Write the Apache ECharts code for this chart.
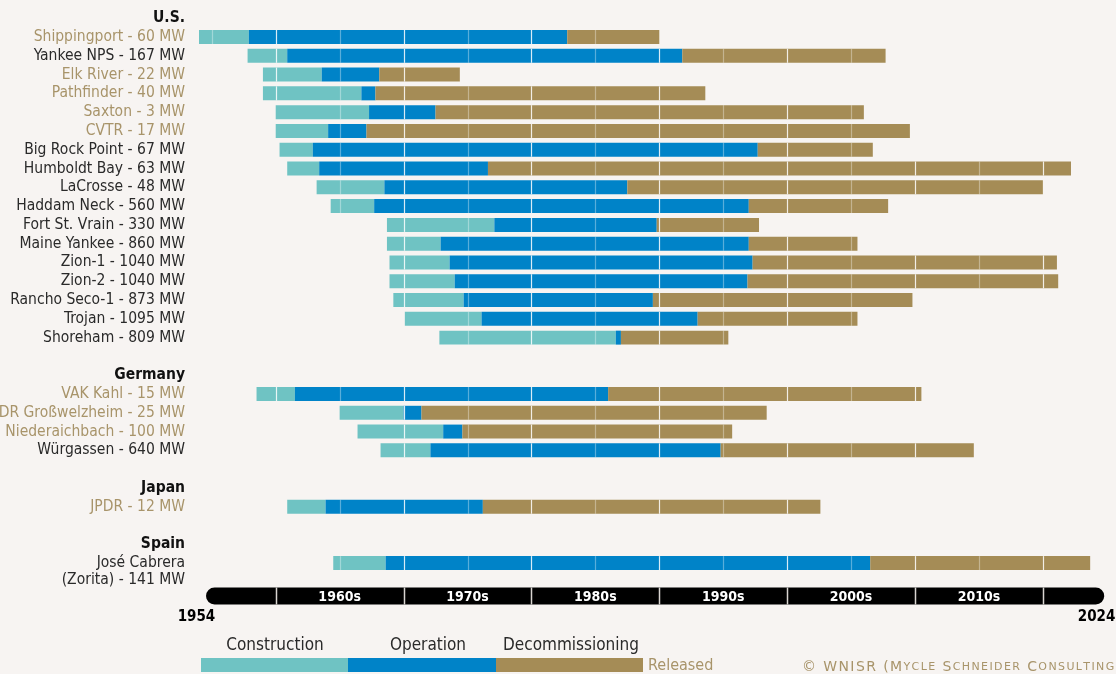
<!DOCTYPE html>
<html><head><meta charset="utf-8">
<script src="https://cdn.jsdelivr.net/npm/echarts@6/dist/echarts.min.js"></script>
<style>html,body{margin:0;padding:0;background:#f7f4f2;}#c{width:1116px;height:674px;}</style>
</head><body><div id="c"></div>
<script>
// ---- data ----
const rowLabels = [
  'U.S.',
  'Shippingport - 60 MW','Yankee NPS - 167 MW','Elk River - 22 MW','Pathfinder - 40 MW',
  'Saxton - 3 MW','CVTR - 17 MW','Big Rock Point - 67 MW','Humboldt Bay - 63 MW',
  'LaCrosse - 48 MW','Haddam Neck - 560 MW','Fort St. Vrain - 330 MW','Maine Yankee - 860 MW',
  'Zion-1 - 1040 MW','Zion-2 - 1040 MW','Rancho Seco-1 - 873 MW','Trojan - 1095 MW','Shoreham - 809 MW',
  ' ',
  'Germany',
  'VAK Kahl - 15 MW','HDR Großwelzheim - 25 MW','Niederaichbach - 100 MW','Würgassen - 640 MW',
  '  ',
  'Japan',
  'JPDR - 12 MW',
  '   ',
  'Spain',
  'José Cabrera\n(Zorita) - 141 MW'
];
const headers = ['U.S.','Germany','Japan','Spain'];
const released = ['Shippingport - 60 MW','Elk River - 22 MW','Pathfinder - 40 MW','Saxton - 3 MW','CVTR - 17 MW',
  'VAK Kahl - 15 MW','HDR Großwelzheim - 25 MW','Niederaichbach - 100 MW','JPDR - 12 MW'];
const constructionStart = [null,
  1954.0,1957.8,1959.0,1959.0,1960.0,1960.0,1960.3,1960.9,1963.2,1964.3,1968.7,1968.7,1968.9,1968.9,1969.2,1970.1,1972.8,
  null,null,1958.5,1965.0,1966.4,1968.2,null,null,1960.9,null,null,1964.5];
const operationStart = [null,
  1957.9,1960.9,1963.6,1966.7,1967.3,1964.1,1962.9,1963.4,1968.5,1967.7,1977.1,1972.9,1973.6,1974.0,1974.7,1976.1,1986.6,
  null,null,1961.5,1970.0,1973.1,1972.1,null,null,1963.9,null,null,1968.6];
const decommissioningStart = [null,
  1982.8,1991.8,1968.1,1967.8,1972.5,1967.1,1997.7,1976.6,1987.5,1997.0,1989.8,1997.0,1997.3,1996.9,1989.5,1993.0,1987.0,
  null,null,1986.0,1971.4,1974.6,1994.8,null,null,1976.2,null,null,2006.5];
const decommissioningEnd = [null,
  1990.0,2007.7,1974.4,1993.6,2006.0,2009.6,2006.7,2022.2,2020.0,2007.9,1997.8,2005.5,2021.1,2021.2,2009.8,2005.5,1995.4,
  null,null,2010.5,1998.4,1995.7,2014.6,null,null,2002.6,null,null,2023.7];
const decadeLabels = ['1960s','1970s','1980s','1990s','2000s','2010s'];
const decadeStarts = [1960,1970,1980,1990,2000,2010];
const yearStart = 1954, yearEnd = 2024;

// ---- style ----
const C_CON = '#6fc3c3', C_OP = '#0083c8', C_DEC = '#a58c56', C_GOLD = '#a8946a';
const FONT = "'Liberation Sans Narrow','DejaVu Sans Condensed','Roboto',sans-serif";

const barData = [];
rowLabels.forEach((n, i) => {
  if (constructionStart[i] != null)
    barData.push([i, constructionStart[i], operationStart[i], decommissioningStart[i], decommissioningEnd[i]]);
});

function renderBar(params, api) {
  const row = api.value(0);
  const s = api.value(1), o = api.value(2), d = api.value(3), e = api.value(4);
  const y = api.coord([s, row])[1];
  const h = api.size([0, 1])[1] * 0.745;
  const xs = [s, o, d, e].map(v => api.coord([v, row])[0]);
  const cols = [C_CON, C_OP, C_DEC];
  const children = [];
  for (let k = 0; k < 3; k++) {
    children.push({type: 'rect', shape: {x: xs[k], y: y - h / 2, width: xs[k + 1] - xs[k], height: h}, style: {fill: cols[k]}});
  }
  for (let yr = 1955; yr <= 2020; yr += 5) {
    if (yr > s && yr < e) {
      const x = Math.round(api.coord([yr, row])[0]) + 0.5;
      children.push({type: 'line', shape: {x1: x, y1: y - h / 2, x2: x, y2: y + h / 2},
        style: {stroke: '#ffffff', lineWidth: 1.2, opacity: yr % 10 === 0 ? 0.85 : 0.35}});
    }
  }
  return {type: 'group', children};
}

function renderTimeline(params, api) {
  const yTop = api.coord([yearStart, 1])[1], yBot = api.coord([yearStart, 0])[1];
  const h = yBot - yTop;
  const x0 = api.coord([yearStart + 0.55, 0])[0], x1 = api.coord([yearEnd + 0.8, 0])[0];
  const children = [{type: 'rect', shape: {x: x0, y: yTop, width: x1 - x0, height: h, r: h / 2}, style: {fill: '#000'}}];
  for (let yr = 1960; yr <= 2020; yr += 10) {
    const x = Math.round(api.coord([yr, 0])[0]) + 0.5;
    children.push({type: 'line', shape: {x1: x, y1: yTop, x2: x, y2: yBot}, style: {stroke: '#d8d4d0', lineWidth: 1.5}});
  }
  decadeStarts.forEach((d, k) => {
    children.push({type: 'text', style: {text: decadeLabels[k], x: api.coord([d + 5, 0])[0], y: (yTop + yBot) / 2 + 1,
      align: 'center', verticalAlign: 'middle', fill: '#fff', font: "bold 14px " + FONT}});
  });
  [yearStart, yearEnd].forEach(yv => {
    children.push({type: 'text', style: {text: String(yv), x: api.coord([yv + (yv === yearStart ? -0.2 : 0.2), 0])[0], y: yBot + 13,
      align: 'center', verticalAlign: 'middle', fill: '#000', font: "bold 15px " + FONT}});
  });
  return {type: 'group', children};
}

// copyright in small caps with extra letter spacing
const copyright = '© WNISR (Mycle Schneider Consulting';
let copyRich = '';
for (const ch of copyright) {
  const isUpper = ch === ch.toUpperCase();
  copyRich += '{' + (isUpper ? 'b' : 's') + '|' + ch.toUpperCase() + '}{g|\u2009}';
}

const chart = echarts.init(document.getElementById('c'), null, {renderer: 'canvas'});
chart.setOption({
  backgroundColor: '#f7f4f2',
  animation: false,
  grid: [
    {left: 199, right: 22, top: 8.8, height: 563.7, containLabel: false, outerBoundsMode: 'none'},
    {left: 199, right: 22, top: 587.5, height: 17, containLabel: false, outerBoundsMode: 'none'}
  ],
  xAxis: [
    {gridIndex: 0, type: 'value', min: yearStart, max: yearEnd, show: false},
    {gridIndex: 1, type: 'value', min: yearStart, max: yearEnd, show: false}
  ],
  yAxis: [
    {gridIndex: 0, type: 'category', inverse: true, data: rowLabels,
      axisLine: {show: false}, axisTick: {show: false}, splitLine: {show: false},
      axisLabel: {
        margin: 14, interval: 0, fontFamily: FONT,
        formatter: function (v) {
          if (headers.includes(v)) return '{h|' + v + '}';
          if (v.indexOf('\n') >= 0) return v.split('\n').reduce((a, t) => a + '\n{p|' + t + '}', '{p| }');
          if (released.includes(v)) return '{r|' + v + '}';
          return '{p|' + v + '}';
        },
        rich: {
          h: {fontFamily: FONT, fontWeight: 'bold', fontSize: 15.5, color: '#111'},
          r: {fontFamily: FONT, fontSize: 15.5, color: C_GOLD},
          p: {fontFamily: FONT, fontSize: 15.5, color: '#2a2a2a', lineHeight: 17}
        }
      }},
    {gridIndex: 1, type: 'value', min: 0, max: 1, show: false}
  ],
  series: [
    {type: 'custom', xAxisIndex: 0, yAxisIndex: 0, renderItem: renderBar, data: barData, clip: false,
      encode: {x: [1, 2, 3, 4], y: 0}},
    {type: 'custom', xAxisIndex: 1, yAxisIndex: 1, renderItem: renderTimeline, data: [[yearStart, 0]], clip: false}
  ],
  graphic: [
    {type: 'rect', shape: {x: 201, y: 658, width: 147, height: 14}, style: {fill: C_CON}},
    {type: 'rect', shape: {x: 348, y: 658, width: 148, height: 14}, style: {fill: C_OP}},
    {type: 'rect', shape: {x: 496, y: 658, width: 147, height: 14}, style: {fill: C_DEC}},
    {type: 'text', style: {text: 'Construction', x: 275, y: 646, align: 'center', verticalAlign: 'middle', fill: '#2a2a2a', font: '17px ' + FONT}},
    {type: 'text', style: {text: 'Operation', x: 428, y: 646, align: 'center', verticalAlign: 'middle', fill: '#2a2a2a', font: '17px ' + FONT}},
    {type: 'text', style: {text: 'Decommissioning', x: 571, y: 646, align: 'center', verticalAlign: 'middle', fill: '#2a2a2a', font: '17px ' + FONT}},
    {type: 'text', style: {text: 'Released', x: 648, y: 666, align: 'left', verticalAlign: 'middle', fill: C_GOLD, font: '16px ' + FONT}},
    {type: 'text', style: {
      text: copyRich, x: 802, y: 667,
      align: 'left', verticalAlign: 'middle',
      rich: {b: {fontFamily: 'DejaVu Sans', fontSize: 14, fill: C_GOLD, color: C_GOLD},
             s: {fontFamily: 'DejaVu Sans', fontSize: 11, fill: C_GOLD, color: C_GOLD},
             g: {fontFamily: 'DejaVu Sans', fontSize: 7, fill: C_GOLD, color: C_GOLD}}
    }}
  ]
});
</script></body></html>
